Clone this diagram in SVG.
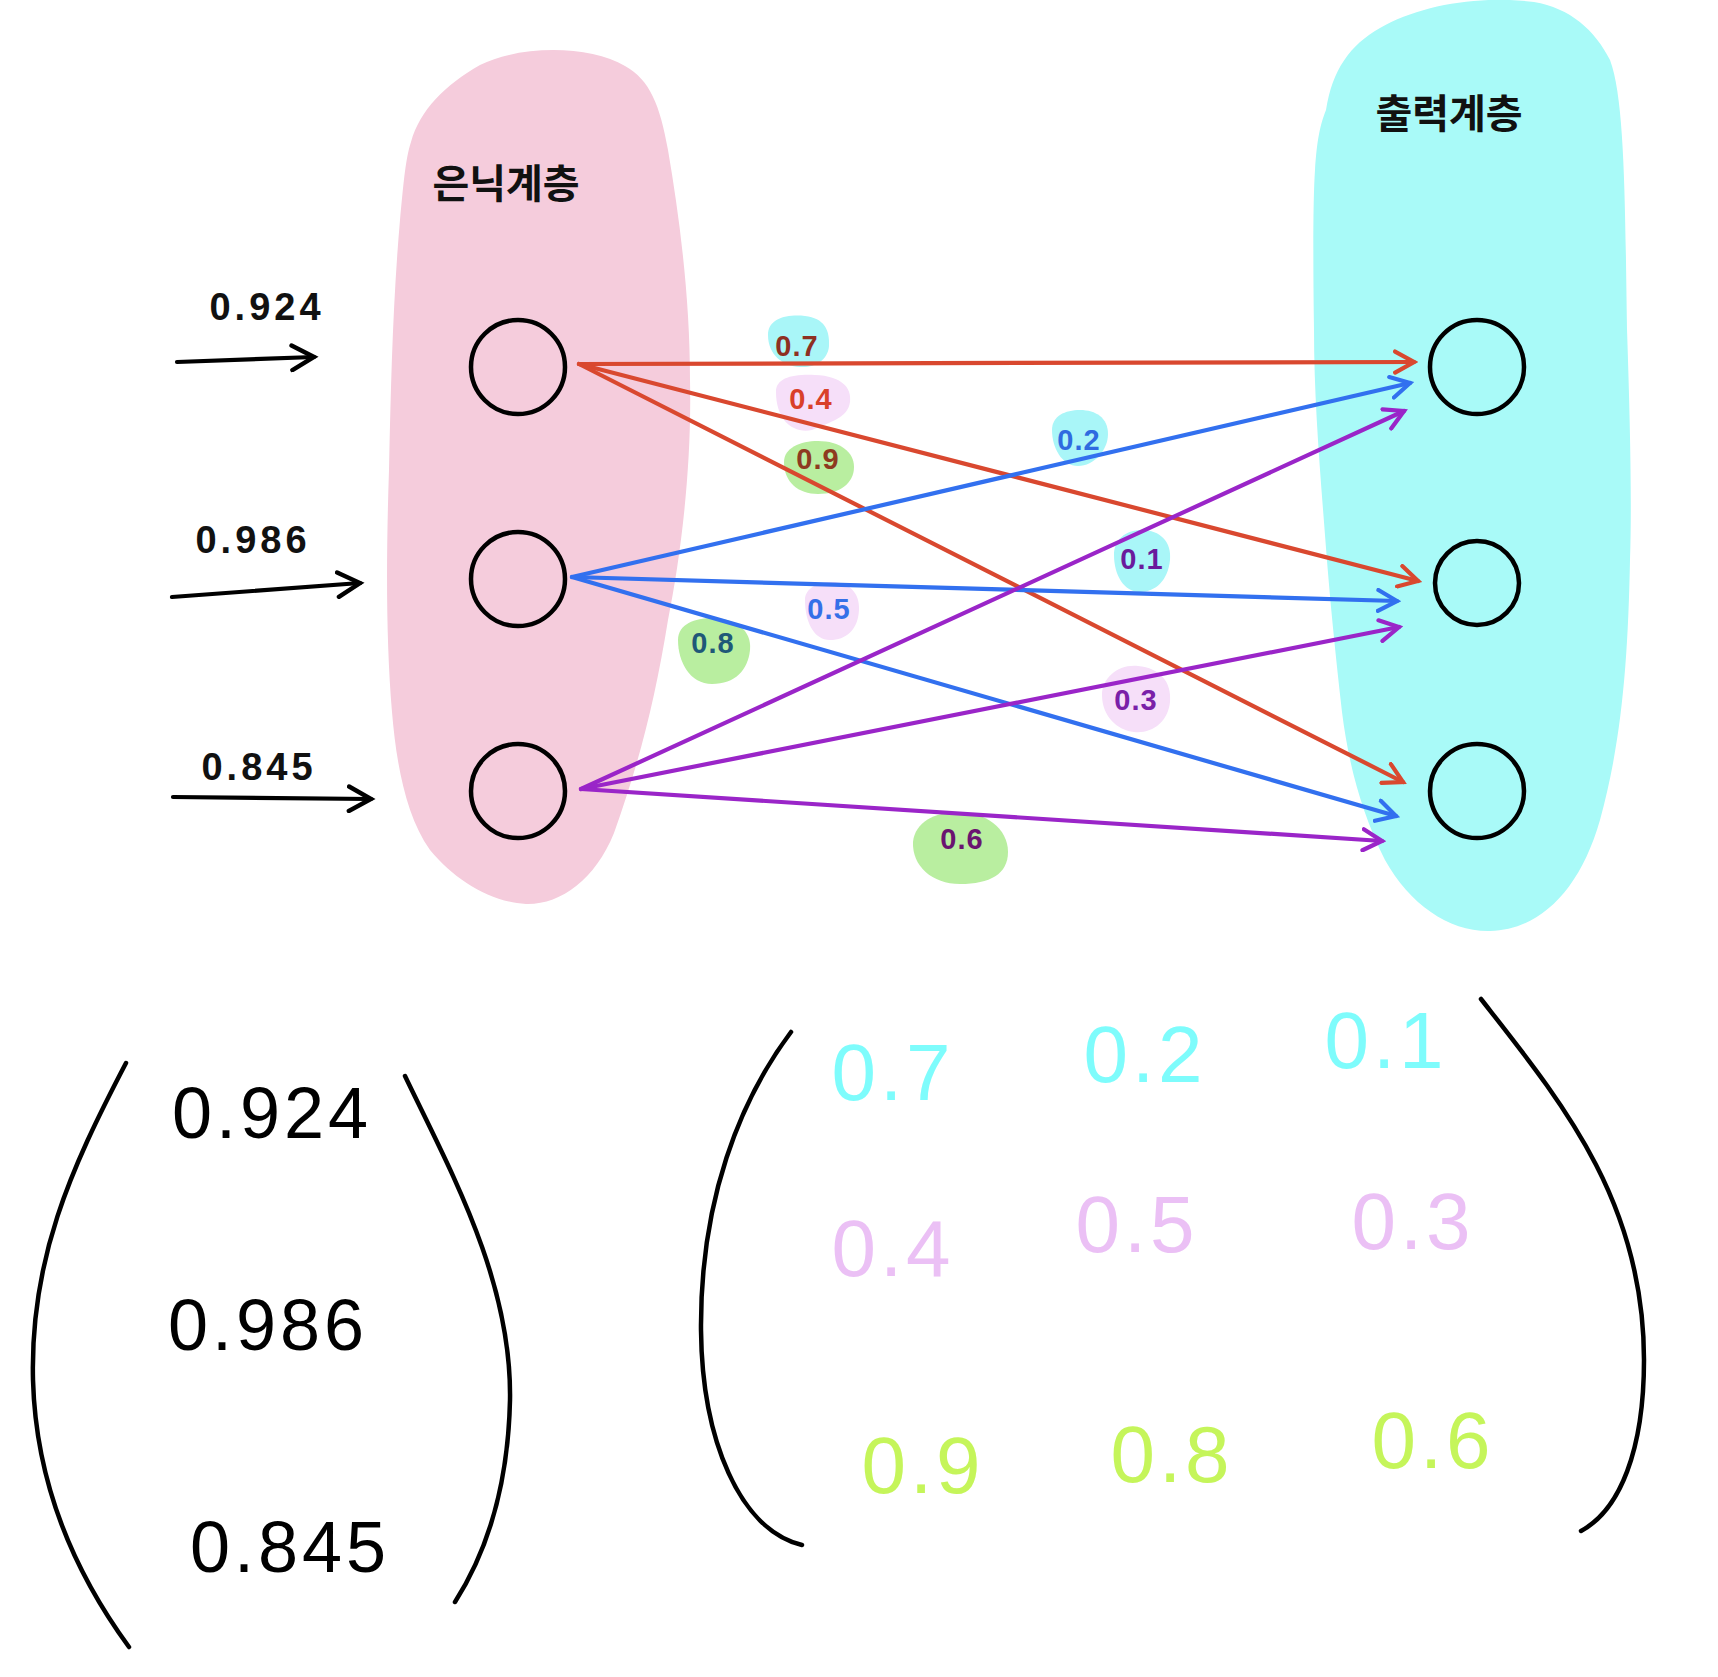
<svg xmlns="http://www.w3.org/2000/svg" width="1718" height="1677" viewBox="0 0 1718 1677">
<style>
.node{fill:none;stroke:#000;stroke-width:4.5}
.lay{font-family:"Noto Sans CJK KR","Noto Sans",sans-serif;font-weight:700;font-size:40px;fill:#111;text-anchor:middle}
.inl{font-family:"Liberation Sans",sans-serif;font-weight:700;font-size:38px;letter-spacing:4px;fill:#111;text-anchor:middle}
.w{font-family:"Liberation Sans",sans-serif;font-weight:700;font-size:29px;letter-spacing:1px;text-anchor:middle}
.m{font-family:"Liberation Sans",sans-serif;font-size:72px;letter-spacing:4px;text-anchor:middle}
.mv{font-family:"Liberation Sans",sans-serif;font-size:80px;letter-spacing:4px;text-anchor:middle}
.c{fill:none;stroke-width:4.2;stroke-linecap:round}
.paren{fill:none;stroke:#000;stroke-width:4.5;stroke-linecap:round}
</style>
<defs>
<marker id="ar" viewBox="0 0 12 12" refX="10" refY="6" markerWidth="6" markerHeight="6" orient="auto" markerUnits="strokeWidth"><path d="M1,1 L10,6 L1,11" fill="none" stroke="#d9482f" stroke-width="2" stroke-linecap="round"/></marker>
<marker id="ab" viewBox="0 0 12 12" refX="10" refY="6" markerWidth="6" markerHeight="6" orient="auto" markerUnits="strokeWidth"><path d="M1,1 L10,6 L1,11" fill="none" stroke="#3270ef" stroke-width="2" stroke-linecap="round"/></marker>
<marker id="ap" viewBox="0 0 12 12" refX="10" refY="6" markerWidth="6" markerHeight="6" orient="auto" markerUnits="strokeWidth"><path d="M1,1 L10,6 L1,11" fill="none" stroke="#9a25c8" stroke-width="2" stroke-linecap="round"/></marker>
<marker id="ak" viewBox="0 0 12 12" refX="10" refY="6" markerWidth="7" markerHeight="7" orient="auto" markerUnits="strokeWidth"><path d="M1,1 L10,6 L1,11" fill="none" stroke="#000" stroke-width="1.8" stroke-linecap="round"/></marker>
</defs>
<rect width="1718" height="1677" fill="#fff"/>
<g id="hidden-layer">
<path d="M411,142 C420,110 445,85 480,65 C520,45 590,45 625,66 C650,80 660,105 668,150 C680,220 690,300 690,380 C692,470 680,560 668,620 C655,700 640,760 614,833 C595,880 560,905 526,904 C490,902 455,880 430,850 C405,815 396,760 392,712 C386,640 386,560 389,470 C391,380 393,300 400,220 C403,190 405,160 411,142 Z" fill="#f5ccdc"/>
<text class="lay" x="506" y="198">은닉계층</text>
</g>
<g id="output-layer">
<path d="M1326,110 C1332,70 1350,45 1380,28 C1420,5 1480,-5 1534,2 C1570,8 1595,30 1610,60 C1625,100 1625,200 1627,329 C1630,420 1632,500 1630,560 C1628,660 1622,740 1600,820 C1580,890 1540,930 1490,931 C1450,932 1410,905 1385,860 C1360,810 1348,760 1342,712 C1335,650 1330,600 1326,548 C1320,470 1314,400 1314,330 C1313,260 1313,200 1315,170 C1317,140 1320,125 1326,110 Z" fill="#a9faf8"/>
<text class="lay" x="1449" y="128">출력계층</text>
</g>
<g id="weight-blobs">
<path d="M768,335 C768,318 788,314 805,316 C824,318 830,330 829,346 C828,360 815,368 800,367 C783,366 768,355 768,335 Z" fill="#a9f6f8"/>
<path d="M776,392 C776,378 792,374 815,375 C842,376 852,388 850,402 C848,418 830,422 812,430 C793,434 776,420 776,392 Z" fill="#f6dff9"/>
<path d="M784,462 C784,448 800,441 818,441 C840,441 854,452 854,467 C854,483 840,494 818,494 C798,494 784,482 784,462 Z" fill="#b9eea0"/>
<path d="M1052,430 C1052,416 1065,410 1080,410 C1096,410 1108,418 1108,434 C1108,450 1094,466 1078,466 C1062,466 1052,448 1052,430 Z" fill="#a9f6f8"/>
<path d="M805,600 C805,588 818,582 832,582 C848,582 860,592 859,610 C858,630 846,640 830,640 C814,640 805,622 805,600 Z" fill="#f6dff9"/>
<path d="M678,640 C678,624 695,618 712,618 C735,618 752,630 750,650 C748,670 735,684 712,684 C690,684 678,662 678,640 Z" fill="#b9eea0"/>
<path d="M1114,555 C1114,540 1125,530 1142,530 C1160,530 1172,542 1170,560 C1168,580 1156,592 1140,592 C1124,592 1114,575 1114,555 Z" fill="#a9f6f8"/>
<path d="M1102,695 C1102,678 1118,664 1138,666 C1160,668 1172,682 1170,702 C1168,722 1152,734 1134,732 C1116,730 1102,715 1102,695 Z" fill="#f6dff9"/>
<path d="M913,842 C915,822 935,812 958,812 C985,812 1008,828 1008,852 C1008,874 990,884 960,884 C932,884 912,866 913,842 Z" fill="#b9eea0"/>
</g>
<g id="connectors">
<line class="c" x1="177" y1="362" x2="314" y2="357" stroke="#000" marker-end="url(#ak)"/>
<line class="c" x1="172" y1="597" x2="360" y2="583" stroke="#000" marker-end="url(#ak)"/>
<line class="c" x1="173" y1="797" x2="371" y2="799" stroke="#000" marker-end="url(#ak)"/>
<line class="c" x1="579" y1="364" x2="1414" y2="362" stroke="#d9482f" marker-end="url(#ar)"/>
<line class="c" x1="579" y1="364" x2="1418" y2="581" stroke="#d9482f" marker-end="url(#ar)"/>
<line class="c" x1="579" y1="364" x2="1403" y2="782" stroke="#d9482f" marker-end="url(#ar)"/>
<line class="c" x1="572" y1="577" x2="1410" y2="383" stroke="#3270ef" marker-end="url(#ab)"/>
<line class="c" x1="572" y1="577" x2="1397" y2="601" stroke="#3270ef" marker-end="url(#ab)"/>
<line class="c" x1="572" y1="577" x2="1396" y2="816" stroke="#3270ef" marker-end="url(#ab)"/>
<line class="c" x1="581" y1="789" x2="1404" y2="411" stroke="#9a25c8" marker-end="url(#ap)"/>
<line class="c" x1="581" y1="789" x2="1399" y2="627" stroke="#9a25c8" marker-end="url(#ap)"/>
<line class="c" x1="581" y1="789" x2="1382" y2="841" stroke="#9a25c8" marker-end="url(#ap)"/>
</g>
<g id="weight-labels">
<text class="w" x="797" y="356" fill="#8e2f22">0.7</text>
<text class="w" x="811" y="409" fill="#d9402a">0.4</text>
<text class="w" x="818" y="469" fill="#8e3a20">0.9</text>
<text class="w" x="1079" y="450" fill="#2f6be0">0.2</text>
<text class="w" x="829" y="619" fill="#3570e8">0.5</text>
<text class="w" x="713" y="653" fill="#1f5878">0.8</text>
<text class="w" x="1142" y="569" fill="#6a1a9c">0.1</text>
<text class="w" x="1136" y="710" fill="#7a20a8">0.3</text>
<text class="w" x="962" y="849" fill="#6a1470">0.6</text>
</g>
<g id="input-labels">
<text class="inl" x="267" y="320">0.924</text>
<text class="inl" x="253" y="553">0.986</text>
<text class="inl" x="259" y="780">0.845</text>
</g>
<g id="h1"><circle class="node" cx="518" cy="367" r="47"/></g>
<g id="h2"><circle class="node" cx="518" cy="579" r="47"/></g>
<g id="h3"><circle class="node" cx="518" cy="791" r="47"/></g>
<g id="o1"><circle class="node" cx="1477" cy="367" r="47"/></g>
<g id="o2"><circle class="node" cx="1477" cy="583" r="42"/></g>
<g id="o3"><circle class="node" cx="1477" cy="791" r="47"/></g>
<g id="input-vector">
<path class="paren" d="M126,1063 C70,1170 30,1260 33,1380 C36,1490 80,1580 129,1647"/>
<path class="paren" d="M405,1076 C450,1170 512,1280 510,1400 C508,1490 485,1555 455,1602"/>
<text class="m" x="272" y="1138">0.924</text>
<text class="m" x="268" y="1350">0.986</text>
<text class="m" x="290" y="1572">0.845</text>
</g>
<g id="weight-matrix">
<path class="paren" d="M791,1032 C740,1100 700,1200 701,1330 C702,1440 740,1530 802,1545"/>
<path class="paren" d="M1481,999 C1560,1100 1644,1200 1644,1360 C1644,1450 1620,1510 1581,1531"/>
<text class="mv" x="893" y="1100" fill="#7efcfc">0.7</text>
<text class="mv" x="1145" y="1082" fill="#7efcfc">0.2</text>
<text class="mv" x="1386" y="1068" fill="#7efcfc">0.1</text>
<text class="mv" x="893" y="1276" fill="#ebc0f5">0.4</text>
<text class="mv" x="1137" y="1252" fill="#ebc0f5">0.5</text>
<text class="mv" x="1413" y="1249" fill="#ebc0f5">0.3</text>
<text class="mv" x="923" y="1493" fill="#c5f55a">0.9</text>
<text class="mv" x="1172" y="1482" fill="#c5f55a">0.8</text>
<text class="mv" x="1433" y="1468" fill="#c5f55a">0.6</text>
</g>
</svg>
